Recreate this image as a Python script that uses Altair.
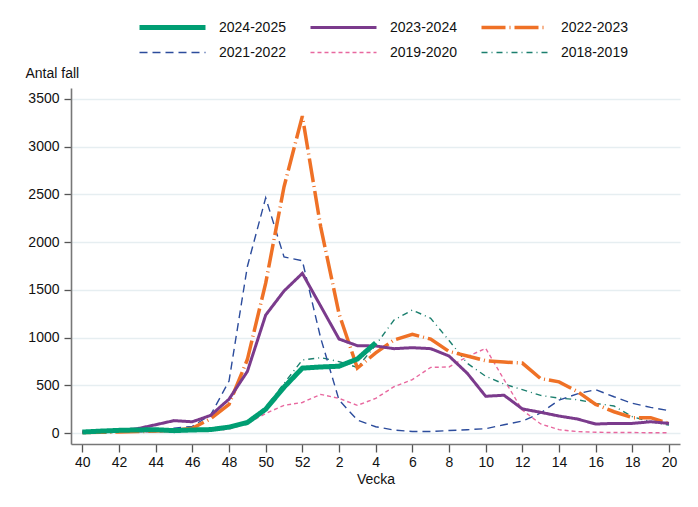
import altair as alt
import pandas as pd

# veckor 40-52, 1-20
weeks = list(range(40, 53)) + list(range(1, 21))

seasons = ["2024-2025", "2023-2024", "2022-2023", "2021-2022", "2019-2020", "2018-2019"]

s2425 = [10, 20, 28, 32, 35, 25, 32, 36, 62, 110, 250, 480, 680, 692, 700, 775, 945]
s2324 = [10, 18, 25, 45, 87, 130, 118, 185, 355, 645, 1236, 1488, 1673, 1330, 985, 915,
         912, 884, 894, 884, 807, 625, 385, 396, 253, 217, 178, 147, 94, 101, 101, 118, 101]
s2223 = [5, 8, 10, 15, 20, 30, 50, 150, 300, 770, 1570, 2580, 3320, 2160, 1250, 680,
         840, 975, 1034, 984, 855, 807, 757, 743, 733, 570, 536, 435, 300, 223, 161, 161, 101]
s2122 = [5, 10, 15, 20, 30, 50, 70, 190, 545, 1745, 2465, 1845, 1805, 995, 346, 136,
         66, 31, 16, 16, 26, 35, 45, 87, 125, 210, 345, 410, 455, 380, 311, 269, 234]
s1920 = [3, 5, 8, 10, 12, 15, 20, 25, 40, 100, 205, 290, 320, 405, 363, 290,
         363, 485, 560, 688, 692, 800, 887, 560, 240, 95, 35, 15, 8, 5, 5, 3, 3]
s1819 = [5, 8, 10, 15, 20, 25, 35, 45, 60, 120, 270, 520, 765, 790, 748, 688,
         922, 1184, 1289, 1202, 970, 730, 595, 513, 454, 394, 366, 349, 311, 283, 171, 118, 84]

series = [s2425, s2324, s2223, s2122, s1920, s1819]

colors = ["#009e73", "#7b3b8c", "#ef7126", "#2c4c9c", "#e8689f", "#1b7f6e"]
dashes = [[1, 0], [1, 0], [24, 4, 1, 4], [8, 5], [4, 3], [6, 4, 1, 4]]
widths = [5, 3, 3.5, 1.4, 1.4, 1.4]

rows = []
for name, vals in zip(seasons, series):
    for i, v in enumerate(vals):
        rows.append({"season": name, "idx": i, "week": weeks[i], "cases": v})
df = pd.DataFrame(rows)

base = alt.Chart(df).mark_line().encode(
    x=alt.X("idx:Q",
            scale=alt.Scale(domain=[-0.62, 32.6], nice=False, zero=False),
            axis=alt.Axis(values=list(range(0, 33, 2)),
                          labelExpr="datum.value <= 12 ? datum.value + 40 : datum.value - 12",
                          title="Vecka", grid=False, tickSize=8, labelPadding=3,
                          titlePadding=3)),
    y=alt.Y("cases:Q",
            scale=alt.Scale(domain=[-115, 3615], nice=False, zero=False),
            axis=alt.Axis(values=list(range(0, 3501, 500)), format="d", title="Antal fall",
                          titleAngle=0, titleAlign="left", titleBaseline="middle",
                          titleX=-46, titleY=-15, tickSize=7, labelPadding=5,
                          gridColor="#e6eef1", gridWidth=1.3)),
    color=alt.Color("season:N", title=None,
                    scale=alt.Scale(domain=seasons, range=colors)),
    strokeDash=alt.StrokeDash("season:N", title=None,
                              scale=alt.Scale(domain=seasons, range=dashes)),
    strokeWidth=alt.StrokeWidth("season:N", title=None,
                                scale=alt.Scale(type="ordinal", domain=seasons, range=widths)),
    order="idx:Q",
)

# ritordning: aldre sasonger underst
draw_order = ["2018-2019", "2019-2020", "2021-2022", "2022-2023", "2023-2024", "2024-2025"]
layers = [base.transform_filter(alt.datum.season == s) for s in draw_order]

chart = alt.layer(*layers).properties(
    width=609,
    height=356,
    autosize=alt.AutoSizeParams(type="none"),
    padding={"left": 63, "top": 80, "right": 10, "bottom": 55},
).configure(
    font="Liberation Sans",
).configure_view(
    stroke=None,
).configure_axis(
    labelFontSize=14,
    titleFontSize=14,
    titleFontWeight="normal",
    labelColor="#111",
    titleColor="#111",
    domainColor="#777",
    domainWidth=1.6,
    tickColor="#555",
    tickWidth=1.3,
).configure_legend(
    orient="none",
    legendX=66,
    legendY=-68,
    direction="horizontal",
    columns=3,
    symbolType="stroke",
    symbolSize=4356,
    clipHeight=15,
    rowPadding=10,
    columnPadding=22,
    labelOffset=11,
    labelFontSize=14,
    labelColor="#111",
)

chart.save("out.html", embed_options={"renderer": "svg", "actions": False})
